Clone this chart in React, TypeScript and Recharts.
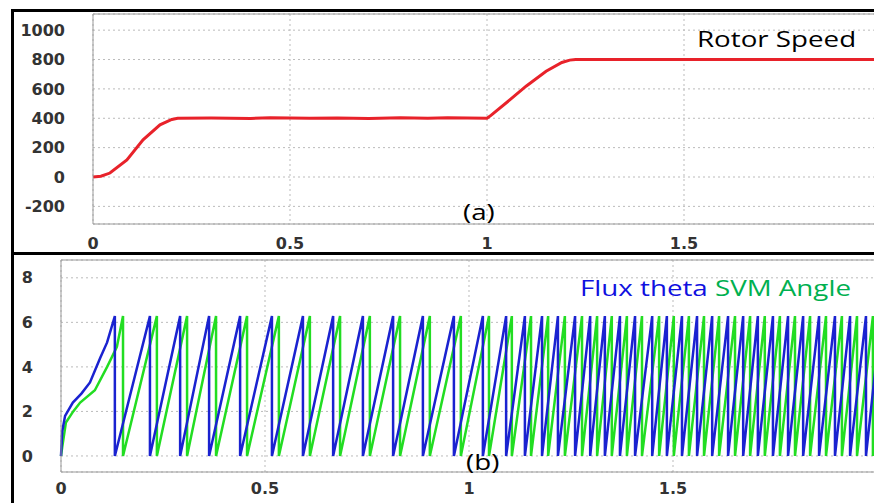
import { LineChart, Line, XAxis, YAxis, CartesianGrid, ReferenceLine } from 'recharts';

// (a) rotor speed
const speedTime = [0, 0.02, 0.043, 0.086, 0.127, 0.17, 0.2, 0.215, 0.3, 0.4, 0.45, 0.55, 0.62, 0.7, 0.78, 0.85, 0.9, 0.95, 1.0, 1.01, 1.06, 1.1, 1.15, 1.19, 1.21, 1.225, 1.4, 1.6, 1.8, 2.0];
const speedValue = [0, 5, 27, 116, 253, 355, 392, 400, 401, 399, 403, 400, 402, 399, 403, 400, 404, 401, 400, 420, 530, 620, 720, 780, 796, 800, 800, 800, 800, 800];

// (b) start of the first tooth, then the reset times of each sawtooth
const PEAK = 6.28;
const fluxStartTime = [0, 0.003, 0.01, 0.029, 0.05, 0.071, 0.096, 0.113];
const fluxStartValue = [0, 1.1, 1.8, 2.4, 2.8, 3.3, 4.4, 5.1];
const fluxResets = [0.132, 0.218, 0.292, 0.363, 0.439, 0.517, 0.593, 0.667, 0.74, 0.814, 0.887, 0.963, 1.034, 1.091, 1.137, 1.179, 1.218, 1.26, 1.297, 1.333, 1.37, 1.407, 1.449, 1.485, 1.522, 1.559, 1.596, 1.635, 1.672, 1.708, 1.745, 1.782, 1.819, 1.858, 1.897, 1.934, 1.973];
const fluxEnd = { t: 2.0, v: 4.6 };

const svmStartTime = [0, 0.003, 0.012, 0.03, 0.047, 0.083, 0.113, 0.137];
const svmStartValue = [0, 0.4, 1.5, 2.0, 2.4, 2.95, 4.0, 4.9];
const svmResets = [0.152, 0.235, 0.309, 0.38, 0.456, 0.534, 0.61, 0.684, 0.757, 0.831, 0.904, 0.98, 1.049, 1.105, 1.152, 1.194, 1.235, 1.277, 1.314, 1.35, 1.387, 1.424, 1.466, 1.502, 1.539, 1.576, 1.613, 1.652, 1.689, 1.725, 1.762, 1.799, 1.836, 1.875, 1.914, 1.951, 1.99];
const svmEnd = { t: 2.0, v: 1.7 };

const timeTicks = [0, 0.5, 1, 1.5];
const speedTicks = [-200, 0, 200, 400, 600, 800, 1000];
const angleTicks = [0, 2, 4, 6, 8];

const speedData = speedTime.map((t, i) => ({ t, v: speedValue[i] }));

function teeth(startT: number[], startV: number[], resets: number[], end: { t: number; v: number }) {
  const pts = startT.map((t, i) => ({ t, v: startV[i] }));
  resets.forEach((t) => {
    pts.push({ t, v: PEAK });
    pts.push({ t, v: 0 });
  });
  pts.push(end);
  return pts;
}

const fluxData = teeth(fluxStartTime, fluxStartValue, fluxResets, fluxEnd);
const svmData = teeth(svmStartTime, svmStartValue, svmResets, svmEnd);

const tickFont = { fontFamily: 'DejaVu Sans', fontWeight: 'bold', fontSize: 16, fill: '#333' };
// the reference text is stretched sideways, hence the scaleX
const labelFont = {
  position: 'absolute' as const,
  fontFamily: 'Open Sans',
  fontSize: 22,
  lineHeight: '22px',
  whiteSpace: 'nowrap' as const,
  transform: 'scaleX(1.26)',
  transformOrigin: 'left top',
};

export default function App() {
  return (
    <div style={{ position: 'absolute', left: 0, top: 0, width: 874, height: 503, overflow: 'hidden', background: '#fff' }}>
      <div style={{ position: 'absolute', left: 0, top: 0 }}>
        <LineChart width={890} height={262} margin={{ top: 14, right: 9, left: 0, bottom: 0 }}>
          <CartesianGrid stroke="#bbb" strokeDasharray="2 3" />
          <XAxis type="number" dataKey="t" domain={[0, 2]} ticks={timeTicks} height={38} tickSize={0} tickMargin={14} tick={tickFont} stroke="#999" />
          <YAxis type="number" domain={[-320, 1110]} allowDataOverflow ticks={speedTicks} width={93} tickSize={0} tickMargin={28} tick={tickFont} stroke="#999" />
          <ReferenceLine y={1110} stroke="#999" />
          <Line data={speedData} dataKey="v" type="linear" stroke="#e8222a" strokeWidth={3} dot={false} isAnimationActive={false} />
        </LineChart>
      </div>
      <div style={{ position: 'absolute', left: 0, top: 254 }}>
        <LineChart width={887} height={249} margin={{ top: 6, right: 10, left: 0, bottom: 0 }}>
          <CartesianGrid stroke="#bbb" strokeDasharray="2 3" />
          <XAxis type="number" dataKey="t" domain={[0, 2]} ticks={timeTicks} height={31} tickSize={0} tickMargin={11} tick={tickFont} stroke="#999" />
          <YAxis type="number" domain={[-0.72, 8.8]} allowDataOverflow ticks={angleTicks} width={61} tickSize={0} tickMargin={28} tick={tickFont} stroke="#999" />
          <ReferenceLine y={8.8} stroke="#999" />
          <Line data={svmData} dataKey="v" type="linear" stroke="#22dd22" strokeWidth={2.5} dot={false} isAnimationActive={false} />
          <Line data={fluxData} dataKey="v" type="linear" stroke="#1a22d0" strokeWidth={2.5} dot={false} isAnimationActive={false} />
        </LineChart>
      </div>

      <div style={{ ...labelFont, left: 697, top: 27, color: '#000' }}>Rotor Speed</div>
      <div style={{ ...labelFont, left: 463, top: 200, color: '#000' }}>(a)</div>
      <div style={{ ...labelFont, left: 466, top: 450, color: '#000' }}>(b)</div>
      <div style={{ ...labelFont, left: 580, top: 276 }}>
        <span style={{ color: '#1010e0' }}>Flux theta</span> <span style={{ color: '#00b050' }}>SVM Angle</span>
      </div>

      <div style={{ position: 'absolute', left: 11, top: 9, width: 863, height: 3, background: '#000' }} />
      <div style={{ position: 'absolute', left: 11, top: 9, width: 3, height: 494, background: '#000' }} />
      <div style={{ position: 'absolute', left: 11, top: 252, width: 863, height: 3, background: '#000' }} />
    </div>
  );
}
